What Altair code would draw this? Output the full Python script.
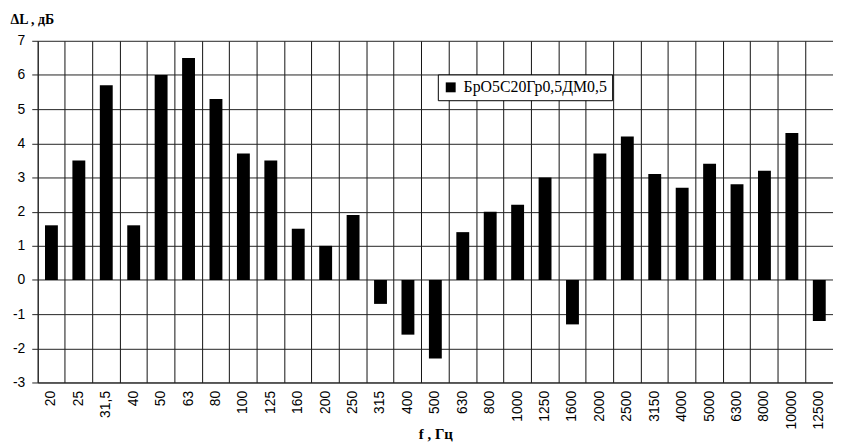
import altair as alt
import pandas as pd

freqs = ["20", "25", "31,5", "40", "50", "63", "80", "100", "125", "160", "200", "250",
         "315", "400", "500", "630", "800", "1000", "1250", "1600", "2000", "2500",
         "3150", "4000", "5000", "6300", "8000", "10000", "12500"]
values = [1.6, 3.5, 5.7, 1.6, 6.0, 6.5, 5.3, 3.7, 3.5, 1.5, 1.0, 1.9,
          -0.7, -1.6, -2.3, 1.4, 2.0, 2.2, 3.0, -1.3, 3.7, 4.2,
          3.1, 2.7, 3.4, 2.8, 3.2, 4.3, -1.2]
series_name = "БрО5С20Гр0,5ДМ0,5"
y_ticks = [-3, -2, -1, 0, 1, 2, 3, 4, 5, 6, 7]

df = pd.DataFrame({"f": freqs, "dL": values, "s": [series_name] * len(freqs)})

chart = alt.Chart(df).mark_bar(width=alt.RelativeBandSize(0.47), color="black").encode(
    x=alt.X("f:N", sort=freqs,
            scale=alt.Scale(paddingInner=0, paddingOuter=0),
            axis=alt.Axis(title="f , Гц", labelAngle=-90, labelFont="Liberation Sans",
                          labelFontSize=14, labelColor="black", labelPadding=8,
                          ticks=False, tickSize=0, grid=True, bandPosition=0,
                          gridColor="#111", gridWidth=1, domainColor="#222",
                          titleFont="Liberation Serif", titleFontSize=15,
                          titleFontWeight="bold", titleColor="black",
                          titleBaseline="alphabetic", titleY=57)),
    y=alt.Y("dL:Q", scale=alt.Scale(domain=[-3, 7], nice=False, zero=False),
            axis=alt.Axis(title="ΔL , дБ", values=y_ticks, labelExpr="datum.value + ''",
                          labelFont="Liberation Sans", labelFontSize=14, labelColor="black",
                          labelPadding=7, tickSize=6, tickColor="#222",
                          grid=True, gridColor="#222", gridWidth=1, domainColor="#222",
                          titleFont="Liberation Serif", titleFontSize=14,
                          titleFontWeight="bold", titleColor="black", titleAngle=0,
                          titleAlign="left", titleBaseline="alphabetic",
                          titleX=-28, titleY=-17)),
    color=alt.Color("s:N", scale=alt.Scale(range=["black"]),
                    legend=alt.Legend(title=None, orient="none", legendX=404, legendY=34,
                                      symbolType="square", symbolSize=100,
                                      symbolStrokeWidth=0, labelFont="Liberation Serif",
                                      labelFontSize=16, labelColor="black", labelOffset=5,
                                      padding=5, strokeColor="black", fillColor="white")),
).properties(
    width=803, height=345,
    autosize=alt.AutoSizeParams(type="none"),
    padding={"left": 30, "top": 31, "right": 0, "bottom": 60},
).configure_view(stroke=None)

chart.save("out.html", embed_options={"renderer": "svg", "actions": False})
